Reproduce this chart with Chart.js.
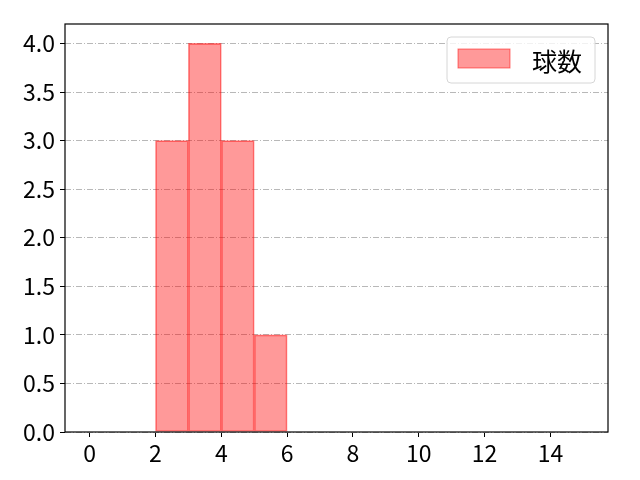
<!DOCTYPE html>
<html>
<head>
<meta charset="utf-8">
<script src="https://cdn.jsdelivr.net/npm/chart.js@4"></script>
<style>
  body { margin: 0; background: #fff; }
</style>
</head>
<body>
<canvas id="chart" width="640" height="480"></canvas>
<script>
// ヒストグラムのビン（左端）と度数
const binStarts = [2, 3, 4, 5];
const counts = [3, 4, 3, 1];
const xTicks = [0, 2, 4, 6, 8, 10, 12, 14];
const yTicks = [0, 0.5, 1, 1.5, 2, 2.5, 3, 3.5, 4];
const seriesLabel = '球数';

const fontFamily = "'Noto Sans CJK JP', 'Noto Sans', sans-serif";
const fillColor = 'rgba(255, 0, 0, 0.4)';
const edgeColor = 'rgba(255, 0, 0, 0.5)';

// 枠線（上下左右）
const framePlugin = {
  id: 'frame',
  afterDraw(chart) {
    const { ctx, chartArea: a } = chart;
    ctx.save();
    ctx.strokeStyle = '#000';
    ctx.lineWidth = 1.2;
    ctx.strokeRect(a.left, a.top, a.right - a.left, a.bottom - a.top);
    ctx.restore();
  },
};

// 凡例をプロット内の右上に描く
const legendPlugin = {
  id: 'innerLegend',
  afterDraw(chart) {
    const { ctx, chartArea: a } = chart;
    const w = 148, h = 46;
    const x = a.right - 13 - w, y = a.top + 13;
    ctx.save();
    ctx.beginPath();
    ctx.roundRect(x, y, w, h, 4);
    ctx.fillStyle = 'rgba(255,255,255,0.8)';
    ctx.fill();
    ctx.strokeStyle = '#d6d6d6';
    ctx.lineWidth = 1;
    ctx.stroke();
    ctx.fillStyle = fillColor;
    ctx.fillRect(x + 11, y + 12, 52, 19);
    ctx.strokeStyle = edgeColor;
    ctx.strokeRect(x + 11, y + 12, 52, 19);
    ctx.fillStyle = '#000';
    ctx.font = '25px ' + fontFamily;
    ctx.textBaseline = 'middle';
    ctx.fillText(seriesLabel, x + 85, y + h / 2 + 1);
    ctx.restore();
  },
};

const ctx = document.getElementById('chart').getContext('2d');

new Chart(ctx, {
  type: 'bar',
  data: {
    datasets: [
      {
        label: seriesLabel,
        data: binStarts.map((b, i) => ({ x: b + 0.5, y: counts[i] })),
        backgroundColor: fillColor,
        borderColor: edgeColor,
        borderWidth: 1,
        borderSkipped: false,
        barPercentage: 1,
        categoryPercentage: 1,
      },
    ],
  },
  options: {
    responsive: false,
    animation: false,
    layout: { padding: { top: 24, right: 32, left: 0, bottom: 0 } },
    plugins: {
      legend: { display: false },
      tooltip: { enabled: false },
    },
    scales: {
      x: {
        type: 'linear',
        offset: false,
        min: -0.75,
        max: 15.75,
        afterBuildTicks: (scale) => {
          scale.ticks = xTicks.map((v) => ({ value: v }));
        },
        afterFit: (scale) => {
          scale.height = 48;
        },
        grid: {
          offset: false,
          drawOnChartArea: false,
          tickLength: 5,
          tickColor: '#000',
          tickWidth: 1,
        },
        border: { display: false },
        ticks: {
          color: '#000',
          padding: 2,
          maxRotation: 0,
          font: { family: fontFamily, size: 23 },
        },
      },
      y: {
        min: 0,
        max: 4.2,
        afterBuildTicks: (scale) => {
          scale.ticks = yTicks.map((v) => ({ value: v }));
        },
        afterFit: (scale) => {
          scale.width = 65;
        },
        grid: {
          color: '#b8b8b8',
          lineWidth: 1,
          tickLength: 5,
          tickColor: '#000',
          tickWidth: 1,
          tickBorderDash: [],
        },
        border: { display: false, dash: [6, 2, 1, 2] },
        ticks: {
          color: '#000',
          padding: 5,
          font: { family: fontFamily, size: 23 },
          callback: (v) => v.toFixed(1),
        },
      },
    },
  },
  plugins: [framePlugin, legendPlugin],
});
</script>
</body>
</html>
